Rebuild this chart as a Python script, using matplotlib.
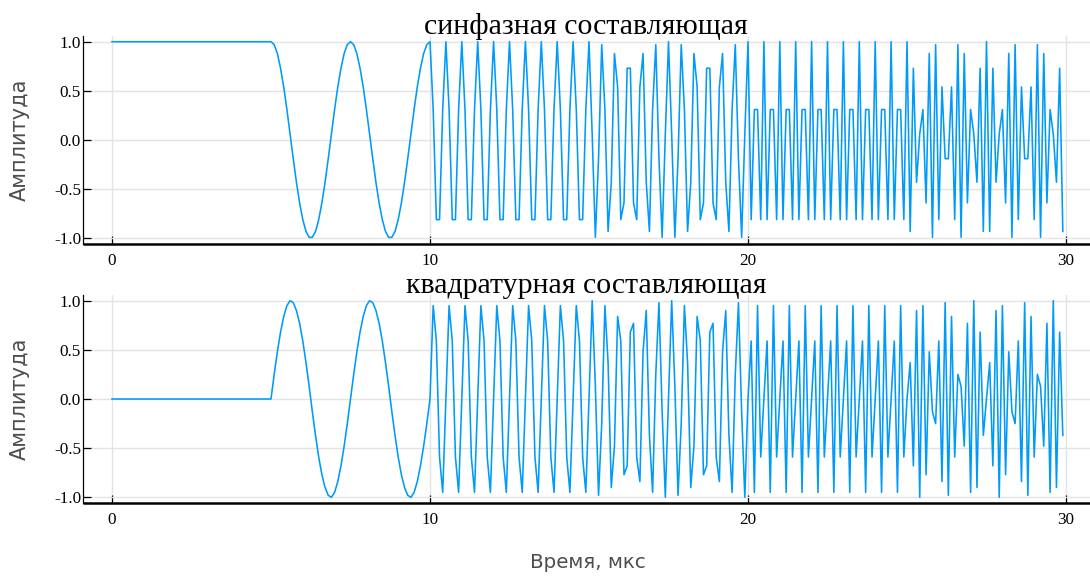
import numpy as np
import matplotlib
matplotlib.use("Agg")
import matplotlib.pyplot as plt

# ---------------- data ----------------
sample_step_us = 0.1  # one sample every 0.1 us

# in-phase component, 5 segments of 50 samples each 5 us
i_seg0 = [1.00] * 50
i_seg1 = [1.00, 0.97, 0.88, 0.73, 0.54, 0.31, 0.06, -0.19, -0.43, -0.64,
          -0.81, -0.93, -0.99, -0.99, -0.93, -0.81, -0.64, -0.43, -0.19, 0.06,
          0.31, 0.54, 0.73, 0.88, 0.97,
          1.00, 0.97, 0.88, 0.73, 0.54, 0.31, 0.06, -0.19, -0.43, -0.64,
          -0.81, -0.93, -0.99, -0.99, -0.93, -0.81, -0.64, -0.43, -0.19, 0.06,
          0.31, 0.54, 0.73, 0.88, 0.97]
i_seg2 = [1.00, 0.31, -0.81, -0.81, 0.31, 1.00, 0.31, -0.81, -0.81, 0.31,
          1.00, 0.31, -0.81, -0.81, 0.31, 1.00, 0.31, -0.81, -0.81, 0.31,
          1.00, 0.31, -0.81, -0.81, 0.31, 1.00, 0.31, -0.81, -0.81, 0.31,
          1.00, 0.31, -0.81, -0.81, 0.31, 1.00, 0.31, -0.81, -0.81, 0.31,
          1.00, 0.31, -0.81, -0.81, 0.31, 1.00, 0.31, -0.81, -0.81, 0.31]
i_seg3 = [1.00, 0.06, -0.99, -0.19, 0.97, 0.31, -0.93, -0.43, 0.88, 0.54,
          -0.81, -0.64, 0.73, 0.73, -0.64, -0.81, 0.54, 0.88, -0.43, -0.93,
          0.31, 0.97, -0.19, -0.99, 0.06,
          1.00, 0.06, -0.99, -0.19, 0.97, 0.31, -0.93, -0.43, 0.88, 0.54,
          -0.81, -0.64, 0.73, 0.73, -0.64, -0.81, 0.54, 0.88, -0.43, -0.93,
          0.31, 0.97, -0.19, -0.99, 0.06]
i_seg4 = [1.00, -0.81, 0.31, 0.31, -0.81, 1.00, -0.81, 0.31, 0.31, -0.81,
          1.00, -0.81, 0.31, 0.31, -0.81, 1.00, -0.81, 0.31, 0.31, -0.81,
          1.00, -0.81, 0.31, 0.31, -0.81, 1.00, -0.81, 0.31, 0.31, -0.81,
          1.00, -0.81, 0.31, 0.31, -0.81, 1.00, -0.81, 0.31, 0.31, -0.81,
          1.00, -0.81, 0.31, 0.31, -0.81, 1.00, -0.81, 0.31, 0.31, -0.81]
i_seg5 = [1.00, -0.93, 0.73, -0.43, 0.06, 0.31, -0.64, 0.88, -0.99, 0.97,
          -0.81, 0.54, -0.19, -0.19, 0.54, -0.81, 0.97, -0.99, 0.88, -0.64,
          0.31, 0.06, -0.43, 0.73, -0.93,
          1.00, -0.93, 0.73, -0.43, 0.06, 0.31, -0.64, 0.88, -0.99, 0.97,
          -0.81, 0.54, -0.19, -0.19, 0.54, -0.81, 0.97, -0.99, 0.88, -0.64,
          0.31, 0.06, -0.43, 0.73, -0.93]

# quadrature component
q_seg0 = [0.00] * 50
q_seg1 = [0.00, 0.25, 0.48, 0.68, 0.84, 0.95, 1.00, 0.98, 0.90, 0.77,
          0.59, 0.37, 0.13, -0.13, -0.37, -0.59, -0.77, -0.90, -0.98, -1.00,
          -0.95, -0.84, -0.68, -0.48, -0.25,
          0.00, 0.25, 0.48, 0.68, 0.84, 0.95, 1.00, 0.98, 0.90, 0.77,
          0.59, 0.37, 0.13, -0.13, -0.37, -0.59, -0.77, -0.90, -0.98, -1.00,
          -0.95, -0.84, -0.68, -0.48, -0.25]
q_seg2 = [0.00, 0.95, 0.59, -0.59, -0.95, 0.00, 0.95, 0.59, -0.59, -0.95,
          0.00, 0.95, 0.59, -0.59, -0.95, 0.00, 0.95, 0.59, -0.59, -0.95,
          0.00, 0.95, 0.59, -0.59, -0.95, 0.00, 0.95, 0.59, -0.59, -0.95,
          0.00, 0.95, 0.59, -0.59, -0.95, 0.00, 0.95, 0.59, -0.59, -0.95,
          0.00, 0.95, 0.59, -0.59, -0.95, 0.00, 0.95, 0.59, -0.59, -0.95]
q_seg3 = [0.00, 1.00, 0.13, -0.98, -0.25, 0.95, 0.37, -0.90, -0.48, 0.84,
          0.59, -0.77, -0.68, 0.68, 0.77, -0.59, -0.84, 0.48, 0.90, -0.37,
          -0.95, 0.25, 0.98, -0.13, -1.00,
          0.00, 1.00, 0.13, -0.98, -0.25, 0.95, 0.37, -0.90, -0.48, 0.84,
          0.59, -0.77, -0.68, 0.68, 0.77, -0.59, -0.84, 0.48, 0.90, -0.37,
          -0.95, 0.25, 0.98, -0.13, -1.00]
q_seg4 = [0.00, 0.59, -0.95, 0.95, -0.59, 0.00, 0.59, -0.95, 0.95, -0.59,
          0.00, 0.59, -0.95, 0.95, -0.59, 0.00, 0.59, -0.95, 0.95, -0.59,
          0.00, 0.59, -0.95, 0.95, -0.59, 0.00, 0.59, -0.95, 0.95, -0.59,
          0.00, 0.59, -0.95, 0.95, -0.59, 0.00, 0.59, -0.95, 0.95, -0.59,
          0.00, 0.59, -0.95, 0.95, -0.59, 0.00, 0.59, -0.95, 0.95, -0.59]
q_seg5 = [0.00, 0.37, -0.68, 0.90, -1.00, 0.95, -0.77, 0.48, -0.13, -0.25,
          0.59, -0.84, 0.98, -0.98, 0.84, -0.59, 0.25, 0.13, -0.48, 0.77,
          -0.95, 1.00, -0.90, 0.68, -0.37,
          0.00, 0.37, -0.68, 0.90, -1.00, 0.95, -0.77, 0.48, -0.13, -0.25,
          0.59, -0.84, 0.98, -0.98, 0.84, -0.59, 0.25, 0.13, -0.48, 0.77,
          -0.95, 1.00, -0.90, 0.68, -0.37]

x_ticks = [0, 10, 20, 30]
x_tick_labels = ["0", "10", "20", "30"]
y_ticks = [-1.0, -0.5, 0.0, 0.5, 1.0]
y_tick_labels = ["-1.0", "-0.5", "0.0", "0.5", "1.0"]

titles = ["синфазная составляющая", "квадратурная составляющая"]
y_label = "Амплитуда"
x_label = "Время, мкс"

# ---------------- build series ----------------
in_phase = np.array(i_seg0 + i_seg1 + i_seg2 + i_seg3 + i_seg4 + i_seg5)
quadrature = np.array(q_seg0 + q_seg1 + q_seg2 + q_seg3 + q_seg4 + q_seg5)
t = np.arange(len(in_phase)) * sample_step_us

# ---------------- figure ----------------
W, H = 1090, 582
fig = plt.figure(figsize=(W / 100, H / 100), dpi=100)
fig.patch.set_facecolor("white")

px_per_us = 31.8
x0_px = 112.0
left_px, right_px = 82.5, 1090.0
xlim = ((left_px - x0_px) / px_per_us, (right_px - x0_px) / px_per_us)

line_color = "#009AF9"
serif = ["Liberation Serif", "DejaVu Serif"]
sans = ["DejaVu Sans"]
label_color = "#4d4d4d"

panels = [
    (in_phase, 35.8, 244.2, titles[0]),
    (quadrature, 294.8, 503.2, titles[1]),
]

for series, top_px, bot_px, title in panels:
    ax = fig.add_axes([left_px / W, (H - bot_px) / H,
                       (right_px - left_px) / W, (bot_px - top_px) / H])
    ax.plot(t, series, color=line_color, lw=1.15, zorder=3)
    ax.set_xlim(*xlim)
    ax.set_ylim(-1.06, 1.06)
    ax.set_xticks(x_ticks)
    ax.set_xticklabels(x_tick_labels, fontfamily=serif, fontsize=12.3)
    ax.set_yticks(y_ticks)
    ax.set_yticklabels(y_tick_labels, fontfamily=serif, fontsize=12.3)
    ax.tick_params(axis="both", direction="in", length=5.5, width=0.9,
                   colors="black")
    ax.tick_params(axis="y", pad=1)
    ax.tick_params(axis="x", pad=6.5)
    ax.grid(True, color="#e3e3e3", lw=1.0, zorder=0)
    ax.set_axisbelow(True)
    for s in ("top", "right"):
        ax.spines[s].set_visible(False)
    ax.spines["left"].set_linewidth(0.9)
    ax.spines["bottom"].set_linewidth(1.8)
    ax.spines["bottom"].set_capstyle("butt")
    ax.text(0.5, 1.0 + 1.8 / (bot_px - top_px), title, transform=ax.transAxes,
            ha="center", va="baseline", fontfamily=serif, fontsize=21.5)
    fig.text(20 / W, (H - (top_px + bot_px) / 2) / H, y_label, rotation=90,
             ha="center", va="center", fontfamily=sans, fontsize=15,
             color=label_color)

fig.text(588 / W, (H - 562) / H, x_label, ha="center", va="center",
         fontfamily=sans, fontsize=14.3, color=label_color)

fig.savefig("out.png", dpi=100)
